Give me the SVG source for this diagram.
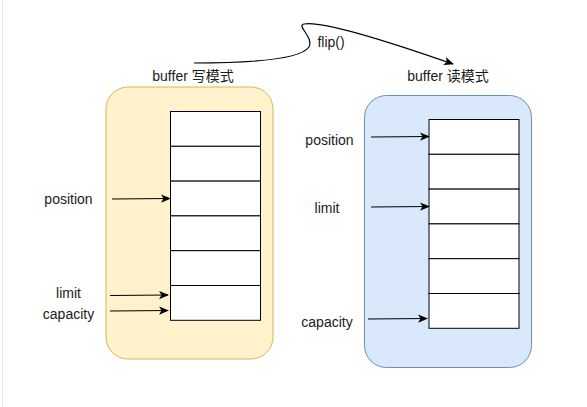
<svg xmlns="http://www.w3.org/2000/svg" width="587" height="407" viewBox="0 0 587 407">
<style>
text{font-family:"Liberation Sans",Arial,sans-serif;font-size:14px;fill:#1a1a1a}
.cjk{font-family:"Liberation Sans","Noto Sans CJK SC",sans-serif}
.cell{fill:#fff;stroke:#000;stroke-width:1}
.edge{fill:none;stroke:#000;stroke-width:1.2}
</style>
<defs>
<marker id="ah" viewBox="0 0 10 10" refX="9" refY="5" markerWidth="10" markerHeight="10" markerUnits="userSpaceOnUse" orient="auto">
<path d="M0,0.8 L10,5 L0,9.2 L2.5,5 Z" fill="#000"/>
</marker>
</defs>
<rect width="587" height="407" fill="#fff"/>
<line x1="2.5" y1="0" x2="2.5" y2="407" stroke="#e6e6e6" stroke-width="1"/>
<g id="write-mode">
<rect x="106" y="87" width="167" height="272" rx="22" fill="#fff2cc" stroke="#d6b656"/>
<text class="cjk" x="193" y="81" text-anchor="middle">buffer 写模式</text>
<g id="write-cells">
<rect class="cell" x="170.5" y="111.5" width="90" height="34.8"/>
<rect class="cell" x="170.5" y="146.3" width="90" height="34.8"/>
<rect class="cell" x="170.5" y="181.1" width="90" height="34.8"/>
<rect class="cell" x="170.5" y="215.9" width="90" height="34.8"/>
<rect class="cell" x="170.5" y="250.7" width="90" height="34.8"/>
<rect class="cell" x="170.5" y="285.5" width="90" height="34.8"/>
</g>
<text x="68.5" y="204" text-anchor="middle">position</text>
<text x="68.5" y="298" text-anchor="middle">limit</text>
<text x="68.5" y="319" text-anchor="middle">capacity</text>
</g>
<g id="read-mode">
<rect x="364.5" y="95.5" width="167" height="272" rx="22" fill="#dae8fc" stroke="#6c8ebf"/>
<text class="cjk" x="448" y="81" text-anchor="middle">buffer 读模式</text>
<g id="read-cells">
<rect class="cell" x="429" y="119.5" width="90" height="34.8"/>
<rect class="cell" x="429" y="154.3" width="90" height="34.8"/>
<rect class="cell" x="429" y="189.1" width="90" height="34.8"/>
<rect class="cell" x="429" y="223.9" width="90" height="34.8"/>
<rect class="cell" x="429" y="258.7" width="90" height="34.8"/>
<rect class="cell" x="429" y="293.5" width="90" height="34.8"/>
</g>
<text x="329.5" y="145" text-anchor="middle">position</text>
<text x="327" y="213" text-anchor="middle">limit</text>
<text x="327" y="327" text-anchor="middle">capacity</text>
</g>
<g id="connectors">
<line class="edge" x1="112" y1="199" x2="170" y2="198.5" marker-end="url(#ah)"/>
<line class="edge" x1="110" y1="295.5" x2="168" y2="295" marker-end="url(#ah)"/>
<line class="edge" x1="110" y1="311" x2="168" y2="310.5" marker-end="url(#ah)"/>
<line class="edge" x1="371" y1="137" x2="429" y2="136.5" marker-end="url(#ah)"/>
<line class="edge" x1="371" y1="207" x2="429" y2="206.5" marker-end="url(#ah)"/>
<line class="edge" x1="368" y1="319" x2="427" y2="318.5" marker-end="url(#ah)"/>
<path class="edge" d="M194,63 C250,63 300,60 309,47 C314,37 296,26 304,24 C322,20 390,42 453,64" marker-end="url(#ah)"/>
<text x="331" y="47" text-anchor="middle">flip()</text>
</g>
</svg>
